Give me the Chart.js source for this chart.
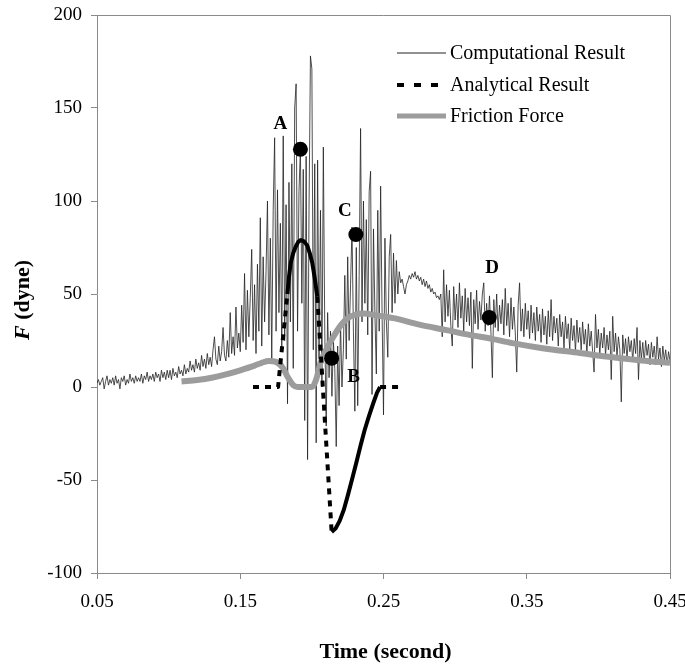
<!DOCTYPE html>
<html>
<head>
<meta charset="utf-8">
<script src="https://cdn.jsdelivr.net/npm/chart.js@4.4.1/dist/chart.umd.min.js"></script>
<style>
html,body{margin:0;padding:0;background:#fff;}
#wrap{width:685px;height:665px;}
</style>
</head>
<body>
<div id="wrap"><canvas id="c" width="685" height="665"></canvas></div>
<script>
// ---- DATA ----
// Computational result: sampled every 0.001 s starting at 0.050 s
const compStart = 0.05;
const compStep = 0.001;
const compForce = [
  2, 4, 1, 3, 5, -1, 3, 6, 1, 4,
  2, 5, 1, 6, 2, 4, -1, 5, 3, 6,
  1, 4, 2, 7, 3, 5, 2, 6, 3, 5,
  3, 7, 2, 6, 4, 8, 3, 6, 4, 7,
  3, 8, 5, 7, 3, 9, 5, 8, 4, 9,
  5, 9, 4, 10, 6, 8, 5, 11, 7, 9,
  6, 12, 7, 10, 8, 14, 9, 12, 8, 15,
  10, 13, 9, 17, 11, 15, 10, 18, 12, 16,
  11, 20, 27, 15, 12, 22, 14, 19, 32, 17,
  14, 25, 16, 40, 18, 27, 17, 43, 21, 29,
  19, 44, 24, 61, 20, 52, 27, 48, 74, 25,
  55, 18, 66, 30, 91, 22, 70, 35, 62, 100,
  28, 80, 15, 95, 134, 30, 106, 40, 88, 20,
  135, 25, 98, -9, 110, 35, 120, 10, 150, 163,
  30, 105, 128, 45, 117, -18, 124, -39, 95, 178,
  171, 20, 120, -30, 122, 15, 95, 0, 129, 30,
  -21, 40, 5, 30, -5, 25, 10, -32, 22, -10,
  35, 0, 20, 60, 15, 70, 25, 55, 86, 30,
  -13, 75, -10, 60, 139, 35, 100, 45, 90, 28,
  105, 116, -4, 85, 40, 7, 95, 30, 108, 40,
  -15, 80, 35, 16, 70, 82, 40, 72, 45, 68,
  50, 62, 56, 58, 54, 50, 55, 57, 60, 58,
  61, 59, 62, 58, 60, 57, 59, 55, 58, 54,
  57, 53, 55, 51, 53, 50, 51, 48, 49, 47,
  50, 27, 63, 35, 55, 38, 52, 33, 22, 54,
  36, 50, 32, 56, 37, 49, 30, 53, 35, 48,
  33, 51, 10, 47, 34, 52, 31, 46, 36, 50,
  56, 30, 45, 33, 49, 29, 5, 47, 32, 50,
  30, 44, 34, 47, 28, 53, 33, 45, 27, 48,
  31, 43, 29, 8, 44, 56, 30, 42, 27, 45,
  31, 41, 26, 44, 29, 40, 25, 43, 30, 39,
  24, 42, 28, 38, 23, 41, 27, 47, 25, 38,
  29, 37, 22, 39, 27, 35, 21, 38, 26, 34,
  20, 37, 25, 33, 19, 36, 24, 32, 20, 35,
  23, 31, 18, 34, 22, 30, 19, 8, 39, 21,
  31, 18, 29, 21, 32, 17, 28, 20, 30, 4,
  38, 19, 29, 16, 27, 20, -8, 28, 18, 26,
  15, 27, 19, 25, 14, 26, 18, 32, 4, 25,
  15, 24, 13, 25, 17, 23, 12, 24, 16, 22,
  12, 27, 15, 21, 11, 22, 14, 20, 12, 19,
  14
];
const compTime = compForce.map((_, i) => +(compStart + i * compStep).toFixed(3));

const frictionTime  = [0.109, 0.12, 0.13, 0.14, 0.15, 0.16, 0.165, 0.17, 0.175, 0.18, 0.183, 0.187, 0.19, 0.2, 0.203, 0.206, 0.21, 0.215, 0.22, 0.225, 0.23, 0.236, 0.245, 0.257, 0.275, 0.294, 0.31, 0.325, 0.34, 0.36, 0.387, 0.41, 0.43, 0.45];
const frictionForce = [3, 3.8, 5, 6.8, 9, 11.5, 13, 14, 13.5, 10, 5.5, 1, 0, 0, 4, 13, 20, 27, 33, 37, 38.8, 39.5, 38.5, 37, 33.5, 30.6, 28, 26, 23.6, 21, 18.3, 16, 14.3, 13];

const analyticTime  = [0.1589, 0.1764, 0.1829, 0.1840, 0.1852, 0.1870, 0.1887, 0.1905, 0.1922, 0.1945, 0.1968, 0.1985, 0.2003, 0.2020, 0.2038, 0.2138, 0.2166, 0.2194, 0.2223, 0.2252, 0.2281, 0.2311, 0.2340, 0.2369, 0.2399, 0.2429, 0.2455, 0.2476, 0.2636];
const analyticForce = [0, 0, 50, 59, 66.6, 72, 75.4, 78, 79, 78.3, 76, 72, 66.6, 58.5, 48.5, -78, -76, -72, -66, -58, -49.5, -40.5, -31.5, -23, -15.5, -8.6, -3, 0, 0];

const markerTime   = [0.192, 0.2138, 0.2307, 0.3238];
const markerForce  = [127.8, 15.5, 82, 37.4];
const markerLabels = ['A', 'B', 'C', 'D'];

const xTicks = [0.05, 0.15, 0.25, 0.35, 0.45];
const yTicks = [-100, -50, 0, 50, 100, 150, 200];
const legendLabels = ['Computational Result', 'Analytical Result', 'Friction Force'];
const xTitle = 'Time (second)';
const yTitleVar = 'F';
const yTitleRest = ' (dyne)';

// ---- STYLE ----
const SERIF = '"Liberation Serif", "Times New Roman", serif';
const AXIS_COLOR = '#8a8a8a';
const COMP_COLOR = 'rgba(35,35,35,0.8)';
const FRIC_COLOR = '#9c9c9c';
const labelOffsets = [[-20, -25], [22, 19], [-11, -23], [3, -49]];

const zip = (xs, ys) => xs.map((x, i) => ({x: x, y: ys[i]}));

const overlay = {
  id: 'overlay',
  afterDraw(chart) {
    const {ctx, chartArea: a, scales} = chart;
    ctx.save();
    ctx.strokeStyle = AXIS_COLOR;
    ctx.lineWidth = 1;
    ctx.beginPath();
    ctx.moveTo(a.left, a.top + 0.5);
    ctx.lineTo(a.right + 0.5, a.top + 0.5);
    ctx.lineTo(a.right + 0.5, a.bottom);
    ctx.stroke();

    ctx.fillStyle = '#000';
    ctx.font = 'bold 19px ' + SERIF;
    ctx.textAlign = 'center';
    ctx.textBaseline = 'middle';
    markerLabels.forEach((lab, i) => {
      const px = scales.x.getPixelForValue(markerTime[i]) + labelOffsets[i][0];
      const py = scales.y.getPixelForValue(markerForce[i]) + labelOffsets[i][1];
      ctx.fillText(lab, px, py);
    });

    const lx0 = 397, lx1 = 446, rows = [53, 85, 116];
    ctx.lineCap = 'butt';
    ctx.strokeStyle = '#222'; ctx.lineWidth = 1; ctx.setLineDash([]);
    ctx.beginPath(); ctx.moveTo(lx0, rows[0]); ctx.lineTo(lx1, rows[0]); ctx.stroke();
    ctx.strokeStyle = '#000'; ctx.lineWidth = 4; ctx.setLineDash([7, 10]);
    ctx.beginPath(); ctx.moveTo(lx0, rows[1]); ctx.lineTo(lx1, rows[1]); ctx.stroke();
    ctx.setLineDash([]);
    ctx.strokeStyle = FRIC_COLOR; ctx.lineWidth = 5;
    ctx.beginPath(); ctx.moveTo(lx0, rows[2]); ctx.lineTo(lx1, rows[2]); ctx.stroke();
    ctx.fillStyle = '#000';
    ctx.font = '20px ' + SERIF;
    ctx.textAlign = 'left';
    legendLabels.forEach((t, i) => ctx.fillText(t, 450, rows[i] + 1));

    ctx.font = 'bold 22px ' + SERIF;
    ctx.textAlign = 'center';
    ctx.fillText(xTitle, (a.left + a.right) / 2 + 2, 652);
    ctx.save();
    ctx.translate(23, (a.top + a.bottom) / 2 + 6);
    ctx.rotate(-Math.PI / 2);
    ctx.font = 'italic bold 22px ' + SERIF;
    const w1 = ctx.measureText(yTitleVar).width;
    ctx.font = 'bold 22px ' + SERIF;
    const w2 = ctx.measureText(yTitleRest).width;
    ctx.textAlign = 'left';
    ctx.font = 'italic bold 22px ' + SERIF;
    ctx.fillText(yTitleVar, -(w1 + w2) / 2, 0);
    ctx.font = 'bold 22px ' + SERIF;
    ctx.fillText(yTitleRest, -(w1 + w2) / 2 + w1, 0);
    ctx.restore();
    ctx.restore();
  }
};

const zeroPad = s => { s.paddingTop = 0; s.paddingBottom = 0; s.paddingLeft = 0; s.paddingRight = 0; };

new Chart(document.getElementById('c'), {
  type: 'line',
  data: {
    datasets: [
      {
        type: 'scatter',
        data: zip(markerTime, markerForce),
        pointRadius: 7.5, pointHoverRadius: 7.5,
        pointBackgroundColor: '#000', pointBorderColor: '#000', pointBorderWidth: 0,
        showLine: false, order: 0
      },
      {
        data: zip(analyticTime, analyticForce),
        borderColor: '#000', borderWidth: 4, pointRadius: 0, tension: 0,
        borderCapStyle: 'butt', borderJoinStyle: 'round',
        segment: {
          borderDash: c => Math.hypot(c.p1.x - c.p0.x, c.p1.y - c.p0.y) > 20 ? [6, 6] : []
        },
        order: 1
      },
      {
        data: zip(frictionTime, frictionForce),
        borderColor: FRIC_COLOR, borderWidth: 6, pointRadius: 0,
        cubicInterpolationMode: 'monotone',
        order: 2
      },
      {
        data: zip(compTime, compForce),
        borderColor: COMP_COLOR, borderWidth: 1, pointRadius: 0, tension: 0,
        order: 3
      }
    ]
  },
  options: {
    responsive: false,
    animation: false,
    devicePixelRatio: 1,
    layout: {padding: {left: 0, right: 15, top: 15, bottom: 0}},
    plugins: {legend: {display: false}, tooltip: {enabled: false}},
    elements: {line: {fill: false}},
    scales: {
      x: {
        type: 'linear', min: 0.05, max: 0.45,
        afterBuildTicks: s => { s.ticks = xTicks.map(v => ({value: v})); },
        afterFit: s => { s.height = 92; zeroPad(s); },
        grid: {display: true, drawOnChartArea: false, drawTicks: true, tickLength: 6, color: AXIS_COLOR},
        border: {display: true, color: AXIS_COLOR, width: 1},
        ticks: {
          color: '#000', padding: 12, maxRotation: 0, autoSkip: false,
          font: {family: SERIF, size: 19},
          callback: v => v.toFixed(2)
        }
      },
      y: {
        type: 'linear', min: -100, max: 200,
        afterBuildTicks: s => { s.ticks = yTicks.map(v => ({value: v})); },
        afterFit: s => { s.width = 97; zeroPad(s); },
        grid: {display: true, drawOnChartArea: false, drawTicks: true, tickLength: 6, color: AXIS_COLOR},
        border: {display: true, color: AXIS_COLOR, width: 1},
        ticks: {
          color: '#000', padding: 9, autoSkip: false,
          font: {family: SERIF, size: 19},
          callback: v => String(v)
        }
      }
    }
  },
  plugins: [overlay]
});
</script>
</body>
</html>
